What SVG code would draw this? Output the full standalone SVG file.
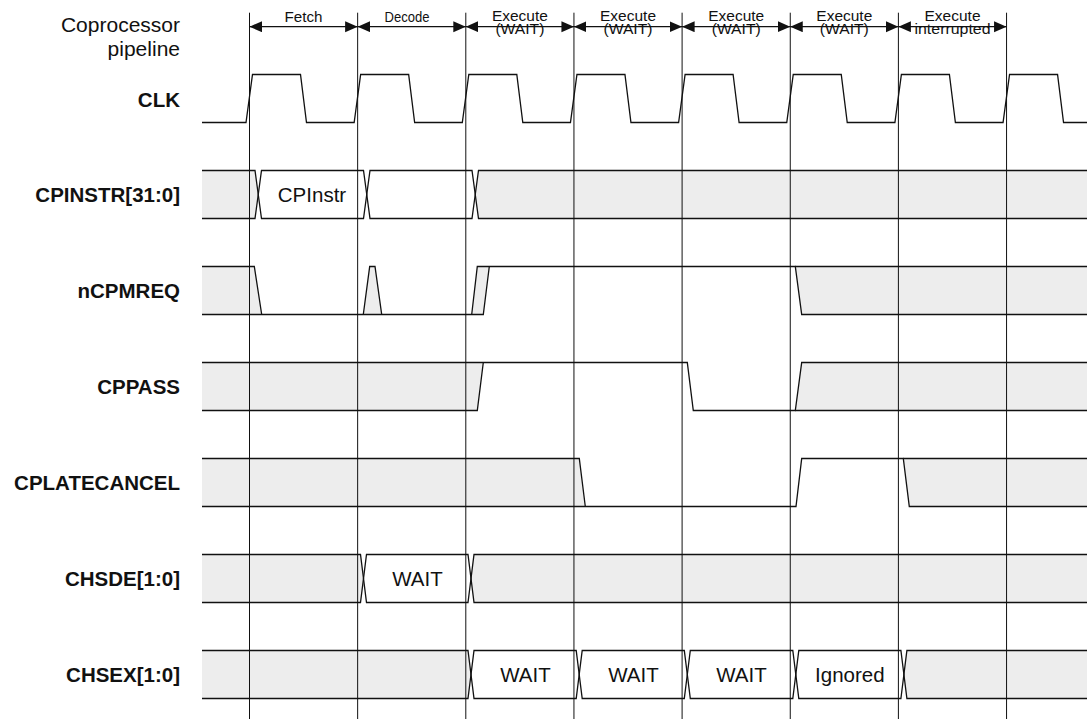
<svg xmlns="http://www.w3.org/2000/svg" width="1087" height="719" viewBox="0 0 1087 719">
<style>
.lbl{font-family:"Liberation Sans",Arial,sans-serif;font-size:20.5px;font-weight:bold;fill:#111;text-anchor:end}
.lblr{font-family:"Liberation Sans",Arial,sans-serif;font-size:21px;fill:#111;text-anchor:end}
.val{font-family:"Liberation Sans",Arial,sans-serif;font-size:20.5px;fill:#111;text-anchor:middle}
.hd{font-family:"Liberation Sans",Arial,sans-serif;font-size:15px;fill:#111;text-anchor:middle}
.w{fill:none;stroke:#111;stroke-width:1.3;stroke-linejoin:miter}
.g{fill:#ededed;stroke:none}
.grid{stroke:#111;stroke-width:1;fill:none}
.arr{stroke:#111;stroke-width:1.2;fill:none;marker-start:url(#ah);marker-end:url(#ah)}
</style>
<defs>
<marker id="ah" markerUnits="userSpaceOnUse" markerWidth="13" markerHeight="12" refX="12.5" refY="5.5" orient="auto-start-reverse">
<path d="M0,0 L12.5,5.5 L0,11 Z" fill="#111"/>
</marker>
</defs>
<rect width="1087" height="719" fill="#fff"/>

<g id="labels">
<text class="lblr" x="180" y="32">Coprocessor</text>
<text class="lblr" x="180" y="56">pipeline</text>
<text class="lbl" x="180" y="106.5">CLK</text>
<text class="lbl" x="180" y="202">CPINSTR[31:0]</text>
<text class="lbl" x="180" y="298">nCPMREQ</text>
<text class="lbl" x="180" y="394">CPPASS</text>
<text class="lbl" x="180" y="490">CPLATECANCEL</text>
<text class="lbl" x="180" y="586">CHSDE[1:0]</text>
<text class="lbl" x="180" y="682">CHSEX[1:0]</text>
</g>

<g id="header">
<text class="hd" x="303.5" y="21.5" textLength="38" lengthAdjust="spacingAndGlyphs">Fetch</text>
<text class="hd" x="407" y="21.5" textLength="45" lengthAdjust="spacingAndGlyphs">Decode</text>
<text class="hd" x="519.9" y="21" textLength="56" lengthAdjust="spacingAndGlyphs">Execute</text>
<text class="hd" x="519.9" y="33.5" textLength="49" lengthAdjust="spacingAndGlyphs">(WAIT)</text>
<text class="hd" x="628" y="21" textLength="56" lengthAdjust="spacingAndGlyphs">Execute</text>
<text class="hd" x="628" y="33.5" textLength="49" lengthAdjust="spacingAndGlyphs">(WAIT)</text>
<text class="hd" x="736.2" y="21" textLength="56" lengthAdjust="spacingAndGlyphs">Execute</text>
<text class="hd" x="736.2" y="33.5" textLength="49" lengthAdjust="spacingAndGlyphs">(WAIT)</text>
<text class="hd" x="844.3" y="21" textLength="56" lengthAdjust="spacingAndGlyphs">Execute</text>
<text class="hd" x="844.3" y="33.5" textLength="49" lengthAdjust="spacingAndGlyphs">(WAIT)</text>
<text class="hd" x="952.5" y="21" textLength="56" lengthAdjust="spacingAndGlyphs">Execute</text>
<text class="hd" x="952.5" y="33.5" textLength="76" lengthAdjust="spacingAndGlyphs">interrupted</text>
</g>

<g id="CLK">
<path class="w" d="M202,122.5 H246 L252.5,74.5 H300.5 L306.5,122.5 H354.15 L360.65,74.5 H408.65 L414.65,122.5 H462.3 L468.8,74.5 H516.8 L522.8,122.5 H570.45 L576.95,74.5 H624.95 L630.95,122.5 H678.6 L685.1,74.5 H733.1 L739.1,122.5 H786.75 L793.25,74.5 H841.25 L847.25,122.5 H894.9 L901.4,74.5 H949.4 L955.4,122.5 H1003.05 L1009.55,74.5 H1057.55 L1063.55,122.5 H1087"/>
</g>

<g id="CPINSTR">
<path class="g" d="M202,170.5 H255 L258.25,194.5 L255,218.5 H202 Z"/>
<path class="g" d="M1087,170.5 H478.5 L475.25,194.5 L478.5,218.5 H1087 Z"/>
<path class="w" d="M202,170.5 H255 L258.25,194.5 L255,218.5 H202"/>
<path class="w" d="M261.5,170.5 H363.5 L366.75,194.5 L363.5,218.5 H261.5 L258.25,194.5 Z"/>
<path class="w" d="M370,170.5 H472 L475.25,194.5 L472,218.5 H370 L366.75,194.5 Z"/>
<path class="w" d="M1087,170.5 H478.5 L475.25,194.5 L478.5,218.5 H1087"/>
<text class="val" x="312" y="202">CPInstr</text>
</g>

<g id="nCPMREQ">
<path class="g" d="M202,266.5 H254.3 L261.7,314.5 H202 Z"/>
<path class="g" d="M363.3,314.5 L369.7,266.5 H375 L381.7,314.5 Z"/>
<path class="g" d="M471.7,314.5 L477.3,266.5 H489.3 L483.3,314.5 Z"/>
<path class="g" d="M795.3,266.5 H1087 V314.5 H801.7 Z"/>
<path class="w" d="M202,266.5 H254.3 L261.7,314.5"/>
<path class="w" d="M202,314.5 H483.3 L489.3,266.5"/>
<path class="w" d="M363.3,314.5 L369.7,266.5 H375 L381.7,314.5"/>
<path class="w" d="M471.7,314.5 L477.3,266.5 H795.3 L801.7,314.5 H1087"/>
<path class="w" d="M795.3,266.5 H1087"/>
</g>

<g id="CPPASS">
<path class="g" d="M202,362.5 H483.3 L477.3,410.5 H202 Z"/>
<path class="g" d="M795.3,410.5 L801.7,362.5 H1087 V410.5 Z"/>
<path class="w" d="M202,362.5 H687.3 L693.3,410.5 H795.3 L801.7,362.5 H1087"/>
<path class="w" d="M202,410.5 H477.3 L483.3,362.5"/>
<path class="w" d="M795.3,410.5 H1087"/>
</g>

<g id="CPLATECANCEL">
<path class="g" d="M202,458.5 H579.3 L585.3,506.5 H202 Z"/>
<path class="g" d="M903.3,458.5 H1087 V506.5 H909.3 Z"/>
<path class="w" d="M202,458.5 H579.3 L585.3,506.5"/>
<path class="w" d="M202,506.5 H796 L801.7,458.5 H903.3 L909.3,506.5 H1087"/>
<path class="w" d="M903.3,458.5 H1087"/>
</g>

<g id="CHSDE">
<path class="g" d="M202,554.5 H360.5 L363.5,578.5 L360.5,602.5 H202 Z"/>
<path class="g" d="M1087,554.5 H474 L471,578.5 L474,602.5 H1087 Z"/>
<path class="w" d="M202,554.5 H360.5 L363.5,578.5 L360.5,602.5 H202"/>
<path class="w" d="M366.5,554.5 H468 L471,578.5 L468,602.5 H366.5 L363.5,578.5 Z"/>
<path class="w" d="M1087,554.5 H474 L471,578.5 L474,602.5 H1087"/>
<text class="val" x="417.5" y="586">WAIT</text>
</g>

<g id="CHSEX">
<path class="g" d="M202,650.5 H468 L471,674.5 L468,698.5 H202 Z"/>
<path class="g" d="M1087,650.5 H906.9 L903.9,674.5 L906.9,698.5 H1087 Z"/>
<path class="w" d="M202,650.5 H468 L471,674.5 L468,698.5 H202"/>
<path class="w" d="M474,650.5 H576.2 L579.2,674.5 L576.2,698.5 H474 L471,674.5 Z"/>
<path class="w" d="M582.2,650.5 H684.3 L687.3,674.5 L684.3,698.5 H582.2 L579.2,674.5 Z"/>
<path class="w" d="M690.3,650.5 H792.8 L795.8,674.5 L792.8,698.5 H690.3 L687.3,674.5 Z"/>
<path class="w" d="M798.8,650.5 H900.9 L903.9,674.5 L900.9,698.5 H798.8 L795.8,674.5 Z"/>
<path class="w" d="M1087,650.5 H906.9 L903.9,674.5 L906.9,698.5 H1087"/>
<text class="val" x="525.5" y="682">WAIT</text>
<text class="val" x="633.5" y="682">WAIT</text>
<text class="val" x="741.5" y="682">WAIT</text>
<text class="val" x="849.8" y="682">Ignored</text>
</g>

<g id="connectors">
<path class="grid" d="M249.5,12.7 V719 M357.65,12.7 V719 M465.8,12.7 V719 M573.95,12.7 V719 M682.1,12.7 V719 M790.25,12.7 V719 M898.4,12.7 V719 M1006.55,12.7 V719"/>
<path class="arr" d="M249.5,26.7 H357.65"/>
<path class="arr" d="M357.65,26.7 H465.8"/>
<path class="arr" d="M465.8,26.7 H573.95"/>
<path class="arr" d="M573.95,26.7 H682.1"/>
<path class="arr" d="M682.1,26.7 H790.25"/>
<path class="arr" d="M790.25,26.7 H898.4"/>
<path class="arr" d="M898.4,26.7 H1006.55"/>
</g>
</svg>
